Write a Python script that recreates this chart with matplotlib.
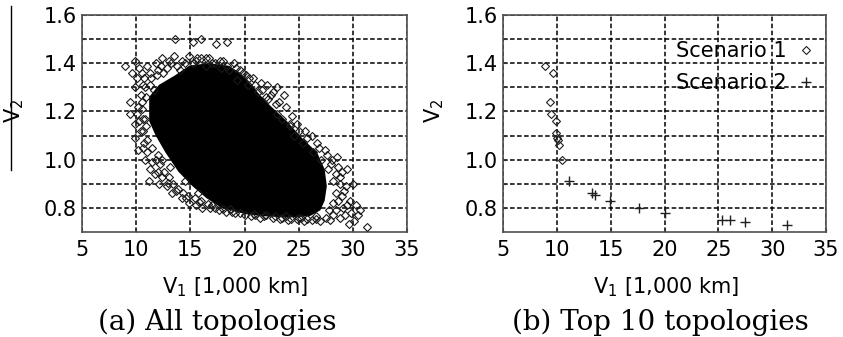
import matplotlib
matplotlib.use("Agg")
import matplotlib.pyplot as plt
from matplotlib.lines import Line2D

plt.rcParams["font.family"] = ["DejaVu Sans"]
plt.rcParams["mathtext.fontset"] = "dejavusans"

# ---- (a) all topologies: dense core outline (V1 in 1,000 km, V2) ----
core_x = [11.2, 11.2, 12.1, 13.6, 14.9, 16.7, 18.5, 19.6, 20.8, 22.0, 23.9, 25.3,
          26.7, 27.4, 27.6, 27.4, 27.0, 26.0, 24.0, 22.0, 20.0, 17.9, 16.5, 15.2,
          13.9, 12.7, 11.8]
core_y = [1.16, 1.26, 1.31, 1.35, 1.39, 1.40, 1.39, 1.36, 1.30, 1.24, 1.16, 1.09,
          1.03, 0.96, 0.89, 0.83, 0.79, 0.765, 0.76, 0.765, 0.775, 0.80, 0.84, 0.89,
          0.95, 1.03, 1.10]

# topologies around the edge of the cloud
edge_x = [9.0, 9.9, 9.6, 10.3, 10.7, 11.4, 11.0, 11.8, 12.4, 13.0, 13.5, 14.2, 14.9,
          15.5, 16.0, 16.7, 17.3, 18.0, 19.0, 19.6, 20.1, 20.8, 21.5, 22.1, 22.6,
          23.0, 23.6, 23.0, 24.2, 24.2, 25.0, 25.8, 26.7, 27.4, 28.5, 28.0, 29.5,
          28.8, 30.0, 29.2, 29.7, 30.3, 30.7, 29.1, 28.8, 27.9, 27.0, 26.2, 25.5,
          24.8, 24.0, 23.3, 22.6, 21.4, 20.6, 20.0, 19.1, 18.3, 17.6, 16.8, 16.1,
          15.5, 14.9, 14.2, 13.3, 12.8, 12.4, 11.2, 11.3, 10.8, 10.2, 9.9, 10.4,
          9.9, 9.4, 10.2, 9.4, 10.4, 9.9, 10.6,
          13.6, 15.2, 16.0, 17.4, 18.4, 31.3, 30.5,
          11.3, 12.0, 12.8, 13.8, 15.2, 16.4, 17.8, 18.6, 19.3, 20.3, 21.2, 22.0,
          22.9, 23.5, 24.6, 25.4, 26.3, 27.1, 27.7, 28.2, 28.4, 28.2, 27.8, 26.6,
          25.2, 23.8, 22.0, 20.9, 18.7, 17.0, 15.8, 14.6, 13.7, 12.9, 12.0, 11.5,
          11.0, 10.7, 10.6, 10.8, 10.5, 10.9, 11.6,
          10.6, 11.0, 11.5, 11.8, 12.2, 12.0, 12.6, 13.0, 13.4, 13.9, 14.3, 14.8,
          15.4, 16.0, 16.6, 17.3, 13.1, 12.4, 14.5, 15.7, 11.7, 12.1,
          10.3, 10.9, 10.5, 10.8, 11.3, 10.1, 10.5, 11.9, 12.5, 12.3, 13.2, 14.0,
          14.5, 10.1, 10.6,
          15.6, 16.4, 17.0, 17.7, 18.4, 19.2, 19.9, 20.4, 21.0, 21.6, 22.4, 23.2,
          22.2, 23.8, 24.4, 24.8, 25.6, 26.2, 26.9, 27.6, 28.1, 28.6, 29.0, 28.4,
          28.8, 29.4, 29.0, 28.6, 29.5, 28.4, 29.3, 28.2, 27.5, 26.6, 25.8, 25.0,
          24.3, 23.5, 22.8, 21.8, 21.0, 19.6, 18.8, 18.0, 29.8, 30.1, 29.6]
edge_y = [1.39, 1.41, 1.36, 1.38, 1.34, 1.34, 1.39, 1.40, 1.42, 1.41, 1.43, 1.41, 1.43,
          1.41, 1.42, 1.42, 1.40, 1.41, 1.40, 1.37, 1.35, 1.34, 1.32, 1.31, 1.28,
          1.30, 1.27, 1.19, 1.15, 1.14, 1.12, 1.09, 1.07, 1.04, 1.01, 0.98, 0.96,
          0.93, 0.90, 0.87, 0.83, 0.81, 0.79, 0.80, 0.76, 0.75, 0.745, 0.75, 0.745,
          0.755, 0.75, 0.755, 0.76, 0.76, 0.765, 0.77, 0.78, 0.785, 0.79, 0.80, 0.80,
          0.81, 0.82, 0.84, 0.86, 0.89, 0.93, 0.91, 0.96, 1.00, 1.04, 1.09, 1.12,
          1.15, 1.19, 1.22, 1.24, 1.27, 1.30, 1.31,
          1.50, 1.49, 1.50, 1.48, 1.49, 0.72, 0.77,
          1.36, 1.37, 1.38, 1.39, 1.40, 1.39, 1.38, 1.37, 1.33, 1.31, 1.28, 1.26,
          1.23, 1.17, 1.10, 1.07, 1.03, 1.00, 0.96, 0.91, 0.86, 0.82, 0.79, 0.765,
          0.76, 0.765, 0.77, 0.775, 0.795, 0.81, 0.825, 0.84, 0.87, 0.905, 0.95, 0.99,
          1.03, 1.07, 1.12, 1.17, 1.21, 1.26, 1.29,
          1.05, 1.08, 1.05, 1.00, 0.98, 1.02, 0.95, 0.93, 0.90, 0.88, 0.86, 0.85,
          0.84, 0.83, 0.815, 0.80, 0.97, 1.00, 0.91, 0.86, 0.94, 0.90,
          1.16, 1.14, 1.24, 1.30, 1.31, 1.34, 1.36, 1.35, 1.36, 1.39, 1.40, 1.37,
          1.40, 1.19, 1.17,
          1.42, 1.42, 1.40, 1.41, 1.39, 1.38, 1.36, 1.34, 1.31, 1.29, 1.27, 1.24,
          1.25, 1.22, 1.18, 1.15, 1.12, 1.10, 1.05, 1.02, 1.00, 0.97, 0.95, 0.94,
          0.90, 0.89, 0.85, 0.83, 0.81, 0.79, 0.77, 0.77, 0.76, 0.755, 0.755, 0.76,
          0.755, 0.76, 0.765, 0.765, 0.77, 0.78, 0.785, 0.795, 0.78, 0.745, 0.735]

# ---- (b) top 10 topologies per scenario ----
s1_x = [8.9, 9.6, 9.4, 9.5, 9.9, 9.9, 10.0, 10.1, 10.2, 10.5]
s1_y = [1.39, 1.36, 1.24, 1.19, 1.16, 1.11, 1.09, 1.08, 1.06, 1.00]
s2_x = [11.1, 13.3, 13.5, 14.9, 17.6, 20.0, 25.3, 26.1, 27.5, 31.4]
s2_y = [0.91, 0.86, 0.855, 0.83, 0.80, 0.78, 0.75, 0.75, 0.74, 0.73]

x_ticks = [5, 10, 15, 20, 25, 30, 35]
y_ticks = [0.8, 1.0, 1.2, 1.4, 1.6]
y_minor = [0.9, 1.1, 1.3, 1.5]

W, H = 843, 337
fig = plt.figure(figsize=(W / 100, H / 100), dpi=100)
ax_a = fig.add_axes([82 / W, 1 - 232 / H, 325 / W, 217 / H])
ax_b = fig.add_axes([503 / W, 1 - 232 / H, 323 / W, 217 / H])

FS = 15
for ax in (ax_a, ax_b):
    ax.set_xlim(5, 35)
    ax.set_ylim(0.7, 1.6)
    ax.set_xticks(x_ticks)
    ax.set_xticklabels([str(v) for v in x_ticks])
    ax.set_yticks(y_ticks)
    ax.set_yticklabels([f"{v:.1f}" for v in y_ticks])
    ax.set_yticks(y_minor, minor=True)
    ax.tick_params(which="both", direction="in", length=3, width=0.8,
                   labelsize=FS, colors="#333333", labelcolor="black")
    ax.tick_params(axis="y", pad=4)
    ax.tick_params(axis="x", pad=6)
    ax.grid(True, which="both", color="black", linestyle=(0, (3, 1.6)), linewidth=1.1)
    ax.set_axisbelow(True)
    for sp in ax.spines.values():
        sp.set_color("#505050")
        sp.set_linewidth(1.2)
    ax.set_ylabel(r"V$_2$", fontsize=FS)
    ax.set_xlabel(r"V$_1$ [1,000 km]", fontsize=FS)

ax_a.yaxis.set_label_coords(-0.172, 0.56)
ax_b.yaxis.set_label_coords(-0.176, 0.56)
ax_a.xaxis.set_label_coords(0.47, -0.2)
ax_b.xaxis.set_label_coords(0.505, -0.2)

# (a) cloud of all topologies
ax_a.fill(core_x, core_y, color="black", zorder=2, lw=0)
ax_a.plot(edge_x, edge_y, linestyle="none", marker="D", markersize=3.8,
          markerfacecolor="none", markeredgecolor="#1a1a1a", markeredgewidth=0.8, zorder=3)

# (b) best topologies
ax_b.plot(s1_x, s1_y, linestyle="none", marker="D", markersize=3.8,
          markerfacecolor="none", markeredgecolor="#202020", markeredgewidth=0.8,
          label="Scenario 1", zorder=3)
ax_b.plot(s2_x, s2_y, linestyle="none", marker="+", markersize=6.5,
          color="#202020", markeredgewidth=1.0, label="Scenario 2", zorder=3)
ax_b.legend(loc="upper right", bbox_to_anchor=(0.975, 0.888), frameon=False,
            markerfirst=False, fontsize=FS, labelspacing=0.55, handlelength=0.9,
            handletextpad=0.5, borderpad=0.1, borderaxespad=0.0)

# captions under each panel
fig.text(217 / W, 1 - 322 / H, "(a) All topologies", ha="center", va="center",
         fontsize=20, family=["DejaVu Serif"])
fig.text(660 / W, 1 - 322 / H, "(b) Top 10 topologies", ha="center", va="center",
         fontsize=20, family=["DejaVu Serif"])

# thin rule at the left margin
fig.add_artist(Line2D([11 / W, 11 / W], [1 - 6 / H, 1 - 170 / H],
                      color="black", linewidth=1.0))

fig.savefig("out.png", dpi=100)
